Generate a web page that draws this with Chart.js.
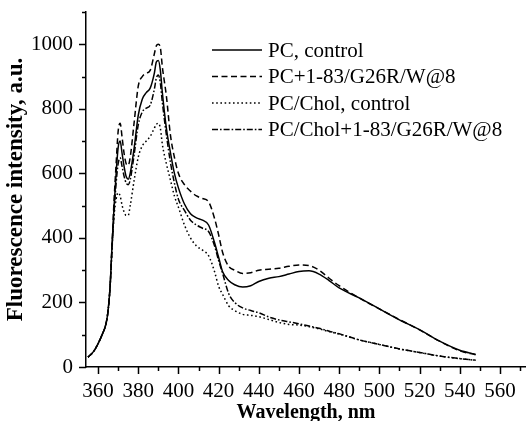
<!DOCTYPE html>
<html>
<head>
<meta charset="utf-8">
<script src="https://cdn.jsdelivr.net/npm/chart.js@4"></script>
<style>
  html, body { margin: 0; padding: 0; background: #fff; }
  #wrap { width: 526px; height: 421px; }
</style>
</head>
<body>
<div id="wrap"><canvas id="spectraChart"></canvas></div>
<script>
const wavelengths = [355, 358, 360, 362, 364, 365, 366, 367, 368, 369, 370, 371, 372, 373, 374, 375, 376, 378, 380, 382, 384, 386, 388, 389, 390, 391, 392, 394, 396, 398, 400, 403, 406, 409, 412, 415, 418, 420, 422, 425, 428, 432, 436, 440, 445, 450, 455, 460, 465, 470, 475, 480, 490, 500, 510, 520, 530, 540, 548];

const pcControl = [30, 50, 72, 100, 135, 175, 250, 380, 500, 600, 680, 700, 660, 620, 590, 582, 600, 680, 780, 830, 850, 865, 910, 945, 950, 920, 850, 740, 665, 600, 555, 505, 475, 462, 455, 440, 385, 340, 295, 268, 255, 248, 252, 265, 275, 280, 288, 296, 298, 288, 268, 245, 214, 180, 146, 116, 80, 52, 39];
const pcPeptide = [30, 50, 72, 100, 135, 175, 250, 385, 520, 630, 730, 755, 710, 660, 630, 625, 650, 760, 870, 900, 910, 920, 970, 995, 1000, 990, 930, 840, 720, 650, 600, 565, 545, 530, 522, 512, 460, 410, 355, 312, 300, 290, 292, 300, 303, 306, 312, 316, 314, 300, 275, 252, 214, 180, 147, 115, 80, 50, 38];
const cholControl = [30, 50, 72, 100, 135, 175, 250, 370, 470, 520, 540, 530, 500, 480, 470, 470, 500, 580, 650, 685, 700, 715, 740, 752, 755, 740, 690, 630, 580, 530, 495, 440, 400, 375, 362, 345, 295, 250, 225, 190, 175, 163, 160, 156, 147, 138, 132, 130, 125, 118, 110, 102, 84, 70, 56, 45, 34, 26, 21];
const cholPeptide = [30, 50, 72, 100, 135, 175, 250, 375, 480, 570, 630, 648, 620, 590, 570, 565, 580, 660, 750, 790, 802, 812, 860, 895, 905, 880, 820, 720, 635, 570, 520, 485, 455, 440, 430, 420, 375, 330, 290, 228, 200, 183, 175, 168, 155, 146, 140, 134, 127, 120, 111, 103, 84, 70, 56, 45, 34, 26, 21];

const seriesLabels = ["PC, control", "PC+1-83/G26R/W@8", "PC/Chol, control", "PC/Chol+1-83/G26R/W@8"];
const seriesDashes = [[], [6, 3.5], [1.6, 2.6], [6, 2, 1.6, 2]];

const xTickLabels = [360, 380, 400, 420, 440, 460, 480, 500, 520, 540, 560];
const yTickLabels = [0, 200, 400, 600, 800, 1000];

const serif = "'Liberation Serif', 'Times New Roman', serif";

function toPoints(values) {
    return wavelengths.map((w, i) => ({ x: w, y: values[i] }));
}

// tick marks (major + minor) drawn outside the axes
const axisTicks = {
    id: 'axisTicks',
    afterDraw(chart) {
        const { ctx, scales: { x, y } } = chart;
        ctx.save();
        ctx.strokeStyle = '#000';
        ctx.lineWidth = 1.5;
        ctx.beginPath();
        for (let v = 360; v <= x.max; v += 10) {
            const px = Math.round(x.getPixelForValue(v)) + 0.5;
            const len = v % 20 === 0 ? 7 : 4;
            ctx.moveTo(px, y.bottom);
            ctx.lineTo(px, y.bottom + len);
        }
        for (let v = 0; v <= y.max; v += 100) {
            const py = Math.round(y.getPixelForValue(v)) + 0.5;
            const len = v % 200 === 0 ? 7 : 4;
            ctx.moveTo(x.left, py);
            ctx.lineTo(x.left - len, py);
        }
        ctx.stroke();
        ctx.restore();
    }
};

// legend inside the plot, top right
const insideLegend = {
    id: 'insideLegend',
    afterDraw(chart) {
        const ctx = chart.ctx;
        ctx.save();
        ctx.font = "21px " + serif;
        ctx.textBaseline = 'middle';
        ctx.fillStyle = '#000';
        chart.data.datasets.forEach((ds, i) => {
            const yy = 50 + i * 26.5;
            ctx.beginPath();
            ctx.setLineDash(ds.borderDash || []);
            ctx.lineWidth = ds.borderWidth;
            ctx.strokeStyle = '#000';
            ctx.moveTo(212, yy);
            ctx.lineTo(262, yy);
            ctx.stroke();
            ctx.setLineDash([]);
            ctx.fillText(ds.label, 268, yy + 1);
        });
        ctx.restore();
    }
};

const ctx = document.getElementById('spectraChart').getContext('2d');

const spectraChart = new Chart(ctx, {
    type: 'line',
    data: {
        datasets: seriesLabels.map((label, i) => ({
            label: label,
            data: toPoints([pcControl, pcPeptide, cholControl, cholPeptide][i]),
            borderColor: '#000',
            borderWidth: 1.5,
            borderDash: seriesDashes[i],
            fill: false,
            cubicInterpolationMode: 'monotone',
            pointRadius: 0,
            pointHoverRadius: 0
        }))
    },
    options: {
        responsive: true,
        maintainAspectRatio: false,
        animation: false,
        layout: { padding: { top: 12, right: 0, bottom: 0, left: 0 } },
        scales: {
            x: {
                type: 'linear',
                min: 354,
                max: 573,
                afterBuildTicks: (scale) => {
                    scale.ticks = xTickLabels.map(v => ({ value: v }));
                },
                afterFit: (scale) => {
                    scale.height = 54;
                    scale.paddingLeft = 0;
                    scale.paddingRight = 0;
                },
                grid: { display: false },
                border: { display: true, color: '#000', width: 1.5 },
                ticks: {
                    color: '#000',
                    padding: 4,
                    maxRotation: 0,
                    autoSkip: false,
                    font: { size: 21, family: serif },
                    callback: (value) => String(value)
                },
                title: {
                    display: true,
                    text: 'Wavelength, nm',
                    color: '#000',
                    padding: { top: 0, bottom: -4 },
                    font: { size: 20, weight: 'bold', family: serif }
                }
            },
            y: {
                min: 0,
                max: 1100,
                afterBuildTicks: (scale) => {
                    scale.ticks = yTickLabels.map(v => ({ value: v }));
                },
                afterFit: (scale) => {
                    scale.width = 86;
                    scale.paddingTop = 0;
                    scale.paddingBottom = 0;
                },
                grid: { display: false },
                border: { display: true, color: '#000', width: 1.5 },
                ticks: {
                    color: '#000',
                    padding: 5,
                    autoSkip: false,
                    font: { size: 21, family: serif },
                    callback: (value) => String(value)
                },
                title: {
                    display: true,
                    text: 'Fluorescence intensity, a.u.',
                    color: '#000',
                    padding: { top: 2, bottom: 0 },
                    font: { size: 23, weight: 'bold', family: serif }
                }
            }
        },
        plugins: {
            legend: { display: false },
            tooltip: { enabled: false }
        }
    },
    plugins: [axisTicks, insideLegend]
});
</script>
</body>
</html>
